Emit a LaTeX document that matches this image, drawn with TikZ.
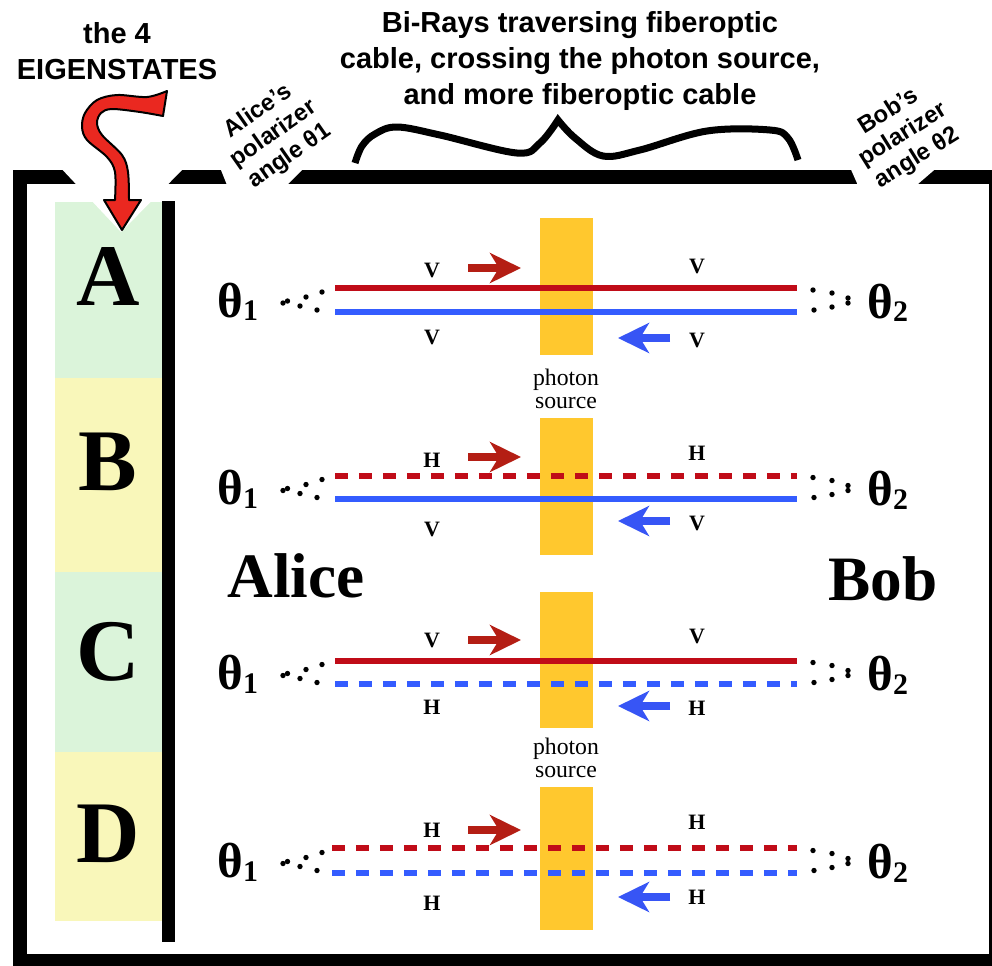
\documentclass[tikz,border=0pt]{standalone}
\usepackage{fontspec}
\setmainfont{Liberation Serif}
\newfontfamily\labelfont{Liberation Sans}
\usetikzlibrary{arrows.meta}

\definecolor{cellgreen}{RGB}{219,244,218}
\definecolor{cellyellow}{RGB}{249,247,186}
\definecolor{rayred}{RGB}{192,12,24}
\definecolor{rayblue}{RGB}{52,92,255}
\definecolor{tipred}{RGB}{180,30,20}
\definecolor{tipblue}{RGB}{55,85,245}
\definecolor{source}{RGB}{255,200,46}
\definecolor{pointer}{RGB}{234,40,32}

\tikzset{
  ray/.style={line width=0.11cm},
  broken/.style={ray, dash pattern=on 0.26cm off 0.22cm},
  flow/.style={line width=0.17cm, -{Stealth[length=0.62cm,width=0.6cm,inset=0.18cm]}},
  pol/.style={font=\bfseries\fontsize{12.5}{12.5}\selectfont},
  thetalbl/.style={font=\bfseries\fontsize{28}{28}\selectfont, inner sep=0pt},
  letter/.style={font=\bfseries\fontsize{50}{50}\selectfont, inner sep=0pt, anchor=base},
  party/.style={font=\bfseries\fontsize{36}{36}\selectfont, inner sep=0pt, anchor=base},
  head/.style={font=\labelfont\bfseries\fontsize{16.5}{20.5}\selectfont, align=center},
  tag/.style={font=\labelfont\bfseries\fontsize{13.5}{15.5}\selectfont, align=center},
  srcname/.style={font=\fontsize{13.5}{13.5}\selectfont, align=center},
}

\begin{document}
\begin{tikzpicture}[x=0.02cm, y=-0.02cm]
  \clip (0,0) rectangle (992,965);

  % outer frame
  \draw[line width=0.28cm] (20,176.5) rectangle (996,961);

  % state column
  \fill[cellgreen] (55,202) rectangle (162,378);
  \fill[cellyellow] (55,378) rectangle (162,572);
  \fill[cellgreen] (55,572) rectangle (162,752);
  \fill[cellyellow] (55,752) rectangle (162,921);
  \draw[line width=0.26cm] (168.5,201) -- (168.5,942);

  % white cut-outs in the frame
  \fill[white] (58,165) -- (187,165) -- (121,232) -- cycle;
  \fill[white] (219,165) -- (307,165) -- (282,190) -- (229,190) -- cycle;
  \fill[white] (849,165) -- (940,165) -- (911,190) -- (860,190) -- cycle;

  % Nodes
  \node[letter] (stA) at (108,305) {A};
  \node[letter] (stB) at (108,490) {B};
  \node[letter] (stC) at (108,680) {C};
  \node[letter] (stD) at (108,862) {D};

  \node[party] (alice) at (296,597) {Alice};
  \node[party] (bob) at (883,600) {Bob};

  \node[head] (eigen) at (117,51) {the 4\\EIGENSTATES};
  \node[head] (birays) at (580,61) {Bi-Rays traversing fiberoptic\\cable, crossing the photon source,\\and more fiberoptic cable};
  \node[tag, rotate=35] (alicetag) at (274,134) {Alice’s\\polarizer\\angle θ1};
  \node[tag, rotate=32] (bobtag) at (903,135) {Bob’s\\polarizer\\angle θ2};

  % brace over the cables
  \draw[line width=0.14cm] plot[smooth, tension=0.6] coordinates {(355,163) (362,146) (375,134) (397,127) (440,135) (517,153) (540,143) (558,120)}
    -- plot[smooth, tension=0.6] coordinates {(558,120) (575,138) (603,156) (640,150) (707,131) (770,130) (788,138) (798,160)};

  % curly pointer to the states
  \draw[line width=0.04cm, fill=pointer, line join=round]
    plot[smooth, tension=0.55] coordinates {(167,91) (147,97) (117,95) (97,100) (85,113) (82,127) (87,140) (107,157) (115,172) (115,200)}
    -- (104,200) -- (122,230) -- (141,200) -- (129,200)
    -- plot[smooth, tension=0.55] coordinates {(129,200) (128,172) (122,155) (102,135) (97,123) (101,113) (112,109) (140,112) (163,116)}
    -- cycle;

  % photon sources
  \fill[source] (540,218) rectangle (593,355);
  \fill[source] (540,418) rectangle (593,555);
  \fill[source] (540,592) rectangle (593,728);
  \fill[source] (540,787) rectangle (593,930);
  \node[srcname] (srcA) at (566,389) {photon\\source};
  \node[srcname] (srcC) at (566,758) {photon\\source};

  % polarizer angles at both ends
  \foreach \r/\m in {A/300,B/487.5,C/672.5,D/860.5} {
    \node[thetalbl, anchor=base west] (thL\r) at (217,{\m+17}) {θ\raisebox{-2pt}{\fontsize{17}{17}\selectfont 1}};
    \node[thetalbl, anchor=base west] (thR\r) at (867,{\m+18}) {θ\raisebox{-2pt}{\fontsize{17}{17}\selectfont 2}};
    \foreach \dx/\dy in {283/3,287.5/1,300/6,306/-3,322/-8,317/10,813/-10,814/10,832/-7,832/7,848/-2,848/3}
      \fill (\dx,{\m+\dy}) circle (0.054cm);
  }

  % ray ends
  \coordinate (rA1) at (335,288); \coordinate (rA2) at (797,288);
  \coordinate (bA1) at (335,312); \coordinate (bA2) at (797,312);
  \coordinate (rB1) at (335,476); \coordinate (rB2) at (797,476);
  \coordinate (bB1) at (335,499); \coordinate (bB2) at (797,499);
  \coordinate (rC1) at (335,661); \coordinate (rC2) at (797,661);
  \coordinate (bC1) at (335,684); \coordinate (bC2) at (797,684);
  \coordinate (rD1) at (332,848); \coordinate (rD2) at (797,848);
  \coordinate (bD1) at (332,873); \coordinate (bD2) at (797,873);

  % Edges
  \draw[ray, rayred] (rA1) -- (rA2);
  \draw[ray, rayblue] (bA1) -- (bA2);
  \draw[broken, rayred] (rB1) -- (rB2);
  \draw[ray, rayblue] (bB1) -- (bB2);
  \draw[ray, rayred] (rC1) -- (rC2);
  \draw[broken, rayblue] (bC1) -- (bC2);
  \draw[broken, rayred] (rD1) -- (rD2);
  \draw[broken, rayblue] (bD1) -- (bD2);

  % direction arrows
  \coordinate (fA1) at (468,268); \coordinate (fA2) at (521,268);
  \coordinate (gA1) at (670,338); \coordinate (gA2) at (618,338);
  \coordinate (fB1) at (468,457); \coordinate (fB2) at (521,457);
  \coordinate (gB1) at (670,521); \coordinate (gB2) at (618,521);
  \coordinate (fC1) at (468,640); \coordinate (fC2) at (521,640);
  \coordinate (gC1) at (670,706); \coordinate (gC2) at (618,706);
  \coordinate (fD1) at (468,830); \coordinate (fD2) at (521,830);
  \coordinate (gD1) at (670,897); \coordinate (gD2) at (618,897);
  \draw[flow, tipred] (fA1) -- (fA2);
  \draw[flow, tipblue] (gA1) -- (gA2);
  \draw[flow, tipred] (fB1) -- (fB2);
  \draw[flow, tipblue] (gB1) -- (gB2);
  \draw[flow, tipred] (fC1) -- (fC2);
  \draw[flow, tipblue] (gC1) -- (gC2);
  \draw[flow, tipred] (fD1) -- (fD2);
  \draw[flow, tipblue] (gD1) -- (gD2);

  % polarisation letters
  \node[pol] (pA1) at (432,270) {V};  \node[pol] (pA2) at (697,266) {V};
  \node[pol] (pA3) at (432,337) {V};  \node[pol] (pA4) at (697,340) {V};
  \node[pol] (pB1) at (432,460) {H};  \node[pol] (pB2) at (697,453) {H};
  \node[pol] (pB3) at (432,529) {V};  \node[pol] (pB4) at (697,523) {V};
  \node[pol] (pC1) at (432,640) {V};  \node[pol] (pC2) at (697,636) {V};
  \node[pol] (pC3) at (432,707) {H};  \node[pol] (pC4) at (697,708) {H};
  \node[pol] (pD1) at (432,830) {H};  \node[pol] (pD2) at (697,822) {H};
  \node[pol] (pD3) at (432,903) {H};  \node[pol] (pD4) at (697,897) {H};
\end{tikzpicture}
\end{document}
